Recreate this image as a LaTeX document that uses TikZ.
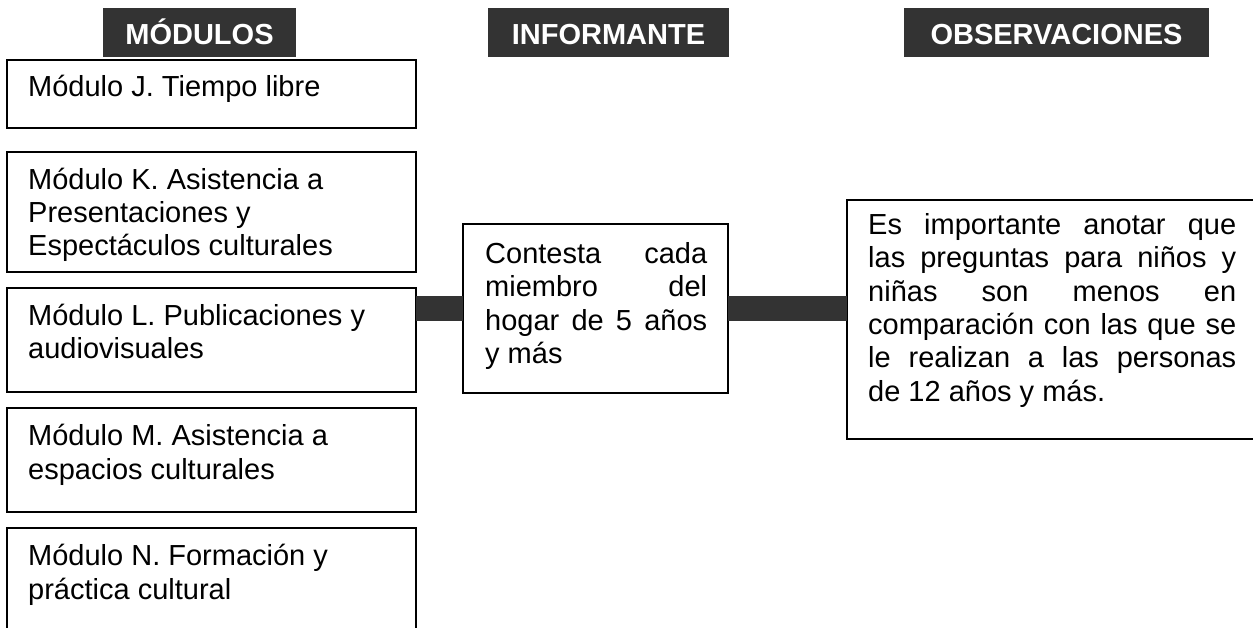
\documentclass[tikz,border=0pt]{standalone}
\usepackage{fontspec}
\setmainfont{Liberation Sans}
\usetikzlibrary{calc}
\definecolor{hdrgray}{HTML}{333333}
\newcommand{\bodyfont}{\fontsize{29}{33.4}\selectfont}
\newcommand{\hdrfont}{\fontsize{29}{33.4}\selectfont\bfseries}
\newcommand{\fst}{\rule{0pt}{27pt}}
\newcommand{\jl}[2]{\makebox[#1][s]{#2}}
\begin{document}
\begin{tikzpicture}[x=1pt,y=-1pt,
  box/.style={draw=black, line width=1.4pt, fill=white, anchor=north west, inner sep=0pt, outer sep=0pt},
  hdr/.style={fill=hdrgray, text=white, font=\hdrfont, inner sep=0pt, minimum height=49pt, anchor=north, text height=23pt, text depth=0pt},
  txt/.style={font=\bodyfont, inner sep=0pt, anchor=north west, align=left},
  bar/.style={draw=hdrgray, line width=25pt}
]
\clip (0,0) rectangle (1253,628);
\fill[white] (0,0) rectangle (1253,628);
% headers
\node[hdr, minimum width=193pt] (hmod) at (199.5,8) {MÓDULOS};
\node[hdr, minimum width=241pt] (hinf) at (608.5,8) {INFORMANTE};
\node[hdr, minimum width=305pt] (hobs) at (1056.5,8) {OBSERVACIONES};
% module boxes
\node[box, minimum width=409pt, minimum height=68pt] (J) at (7,60) {};
\node[box, minimum width=409pt, minimum height=120pt] (K) at (7,152) {};
\node[box, minimum width=409pt, minimum height=104pt] (L) at (7,288) {};
\node[box, minimum width=409pt, minimum height=104pt] (M) at (7,408) {};
\node[box, minimum width=409pt, minimum height=180pt] (N) at (7,528) {};
\node[txt] (tJ) at (28,69.7) {\fst Módulo J. Tiempo libre};
\node[txt] (tK) at (28,162) {\fst Módulo K. Asistencia a\\Presentaciones y\\Espectáculos culturales};
\node[txt] (tL) at (28,298) {\fst Módulo L. Publicaciones y\\audiovisuales};
\node[txt] (tM) at (28,418.7) {\fst Módulo M. Asistencia a\\espacios culturales};
\node[txt] (tN) at (28,538.7) {\fst Módulo N. Formación y\\práctica cultural};
% middle box
\node[box, minimum width=265pt, minimum height=169pt] (mid) at (463,224) {};
\node[txt] (tmid) at (485,236) {\fst\jl{222pt}{Contesta cada}\\\jl{222pt}{miembro del}\\\jl{222pt}{hogar de 5 años}\\y más};
% right box
\node[box, minimum width=430pt, minimum height=239pt] (R) at (847,200) {};
\node[txt] (tR) at (868,207) {\fst\jl{368pt}{Es importante anotar que}\\\jl{368pt}{las preguntas para niños y}\\\jl{368pt}{niñas son menos en}\\\jl{368pt}{comparación con las que se}\\\jl{368pt}{le realizan a las personas}\\de 12 años y más.};
% connectors
\draw[bar] (mid.west) -- (mid.west -| L.east);
\draw[bar] (mid.east) -- (mid.east -| R.west);
\end{tikzpicture}
\end{document}
